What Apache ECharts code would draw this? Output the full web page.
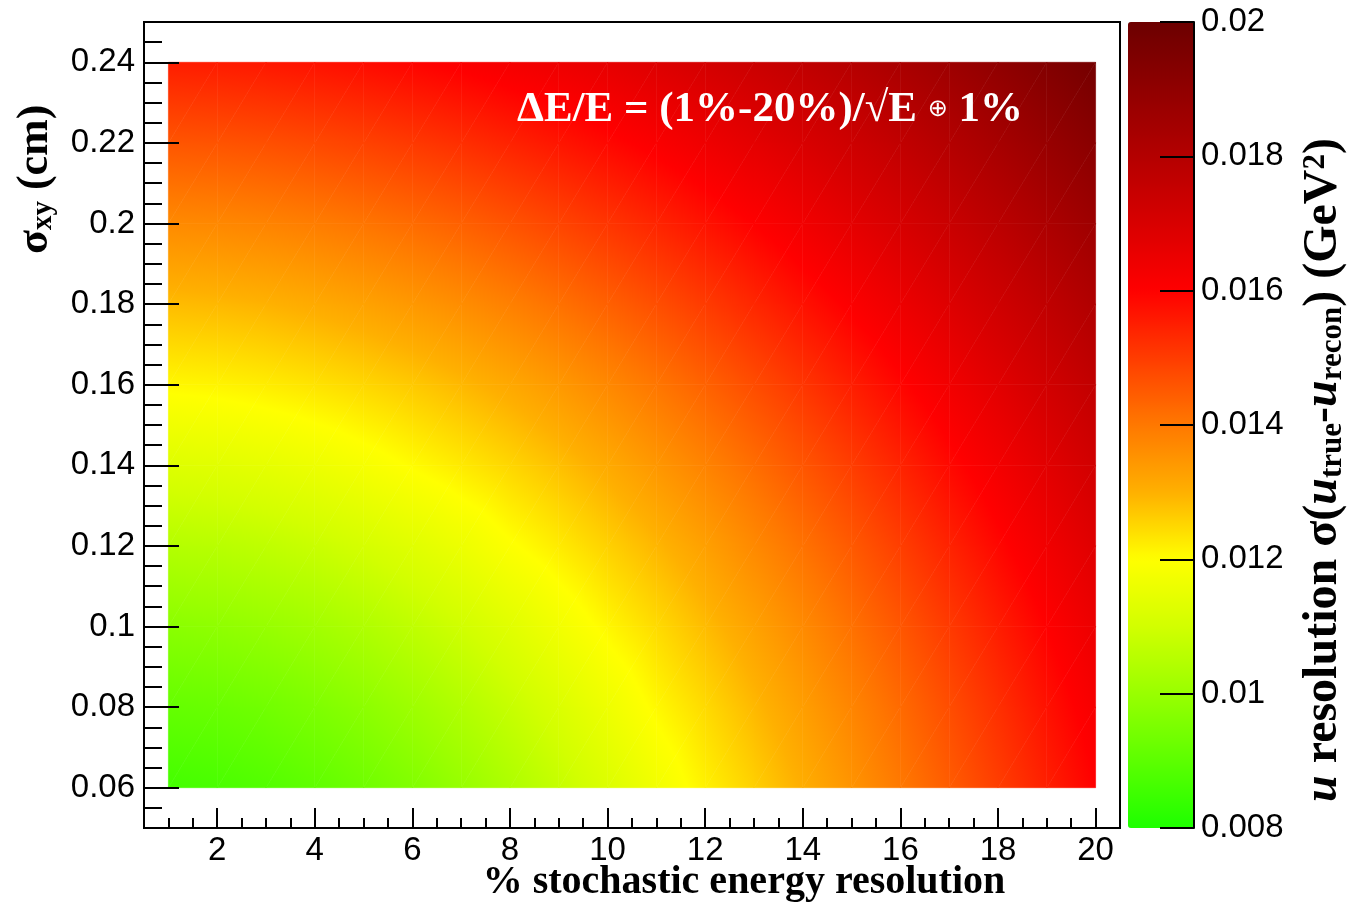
<!DOCTYPE html>
<html><head><meta charset="utf-8">
<script src="https://cdn.jsdelivr.net/npm/echarts@6/dist/echarts.min.js"></script>
<style>html,body{margin:0;padding:0;background:#fff}#chart{width:1359px;height:902px}</style>
</head><body><div id="chart"></div>
<script>
// ---- data ----
const stochastic = [1,2,3,4,5,6,7,8,9,10,11,12,13,14,15,16,17,18,19,20];
const sigmaXY = [0.06,0.08,0.10,0.12,0.14,0.16,0.18,0.20,0.22,0.24];
const res_006 = [0.00860,0.00869,0.00884,0.00905,0.00931,0.00961,0.00996,0.01035,0.01077,0.01122,0.01170,0.01217,0.01259,0.01304,0.01350,0.01398,0.01447,0.01497,0.01548,0.01599];
const res_008 = [0.00913,0.00921,0.00935,0.00955,0.00979,0.01008,0.01042,0.01079,0.01119,0.01163,0.01208,0.01247,0.01289,0.01332,0.01377,0.01424,0.01472,0.01521,0.01572,0.01621];
const res_010 = [0.00976,0.00984,0.00997,0.01015,0.01038,0.01066,0.01097,0.01132,0.01171,0.01210,0.01246,0.01285,0.01325,0.01367,0.01412,0.01457,0.01504,0.01552,0.01600,0.01648];
const res_012 = [0.01047,0.01055,0.01067,0.01084,0.01106,0.01132,0.01161,0.01195,0.01225,0.01258,0.01292,0.01329,0.01369,0.01410,0.01452,0.01497,0.01543,0.01589,0.01635,0.01682];
const res_014 = [0.01126,0.01133,0.01145,0.01161,0.01181,0.01204,0.01227,0.01252,0.01280,0.01311,0.01345,0.01380,0.01418,0.01458,0.01499,0.01542,0.01586,0.01629,0.01674,0.01720];
const res_016 = [0.01209,0.01214,0.01223,0.01235,0.01250,0.01268,0.01290,0.01314,0.01341,0.01371,0.01403,0.01437,0.01473,0.01511,0.01551,0.01592,0.01633,0.01675,0.01719,0.01764];
const res_018 = [0.01285,0.01290,0.01298,0.01310,0.01325,0.01343,0.01363,0.01386,0.01412,0.01440,0.01470,0.01502,0.01536,0.01572,0.01608,0.01646,0.01685,0.01726,0.01768,0.01812];
const res_020 = [0.01368,0.01372,0.01380,0.01391,0.01405,0.01421,0.01440,0.01462,0.01486,0.01512,0.01540,0.01570,0.01601,0.01634,0.01668,0.01704,0.01741,0.01780,0.01821,0.01864];
const res_022 = [0.01458,0.01462,0.01469,0.01479,0.01491,0.01506,0.01523,0.01543,0.01565,0.01588,0.01613,0.01640,0.01668,0.01698,0.01730,0.01765,0.01801,0.01839,0.01879,0.01920];
const res_024 = [0.01552,0.01556,0.01562,0.01571,0.01582,0.01595,0.01610,0.01627,0.01645,0.01665,0.01688,0.01712,0.01738,0.01767,0.01797,0.01830,0.01865,0.01901,0.01939,0.01979];
const resolution = [res_006,res_008,res_010,res_012,res_014,res_016,res_018,res_020,res_022,res_024];

const zRange = [0.008, 0.02];
const paletteColors = ['#1eff00','#5cff00','#99ff00','#d2ff00','#ffff00','#ffb000','#ff7800','#ff3c00','#ff0000','#d80000','#b40000','#900000','#6c0000'];
const xTickLabels = [2,4,6,8,10,12,14,16,18,20];
const xMinorTicks = [1,1.5,2.5,3,3.5,4.5,5,5.5,6.5,7,7.5,8.5,9,9.5,10.5,11,11.5,12.5,13,13.5,14.5,15,15.5,16.5,17,17.5,18.5,19,19.5];
const yTickLabels = [0.06,0.08,0.10,0.12,0.14,0.16,0.18,0.20,0.22,0.24];
const yMinorTicks = [0.055,0.065,0.07,0.075,0.085,0.09,0.095,0.105,0.11,0.115,0.125,0.13,0.135,0.145,0.15,0.155,0.165,0.17,0.175,0.185,0.19,0.195,0.205,0.21,0.215,0.225,0.23,0.235,0.245];
const zTickLabels = [0.008,0.01,0.012,0.014,0.016,0.018,0.02];

// ---- helpers ----
const palRGB = paletteColors.map(h => [parseInt(h.slice(1,3),16), parseInt(h.slice(3,5),16), parseInt(h.slice(5,7),16)]);
const zMin = zRange[0], zMax = zRange[1];
function colorAt(v) {
  let t = (v - zMin) / (zMax - zMin); t = Math.max(0, Math.min(1, t));
  const p = t * (palRGB.length - 1);
  const k = Math.min(Math.floor(p), palRGB.length - 2), f = p - k;
  const a = palRGB[k], b = palRGB[k + 1];
  return 'rgb(' + Math.round(a[0] + (b[0]-a[0])*f) + ',' + Math.round(a[1] + (b[1]-a[1])*f) + ',' + Math.round(a[2] + (b[2]-a[2])*f) + ')';
}
function triFill(P, V) {
  const vlo = Math.min(V[0],V[1],V[2]), vhi = Math.max(V[0],V[1],V[2]);
  const ax = P[1][0]-P[0][0], ay = P[1][1]-P[0][1], bx = P[2][0]-P[0][0], by = P[2][1]-P[0][1];
  const dv1 = V[1]-V[0], dv2 = V[2]-V[0];
  const det = ax*by - ay*bx;
  if (Math.abs(det) < 1e-9 || vhi - vlo < 1e-9) return colorAt((vlo+vhi)/2);
  const gx = (dv1*by - ay*dv2)/det, gy = (ax*dv2 - bx*dv1)/det;
  const g2 = gx*gx + gy*gy;
  if (g2 < 1e-30) return colorAt((vlo+vhi)/2);
  const sx = P[0][0] + (vlo - V[0])*gx/g2, sy = P[0][1] + (vlo - V[0])*gy/g2;
  const ex = P[0][0] + (vhi - V[0])*gx/g2, ey = P[0][1] + (vhi - V[0])*gy/g2;
  const stops = [{offset:0, color:colorAt(vlo)}];
  const n = palRGB.length;
  for (let k = 0; k < n; k++) {
    const zk = zMin + k*(zMax - zMin)/(n - 1);
    if (zk > vlo && zk < vhi) stops.push({offset:(zk - vlo)/(vhi - vlo), color:colorAt(zk)});
  }
  stops.push({offset:1, color:colorAt(vhi)});
  return {type:'linear', x:sx, y:sy, x2:ex, y2:ey, global:true, colorStops:stops};
}
function tri(P, V) {
  return {type:'polygon', shape:{points:P}, silent:true,
    style:{fill:triFill(P,V), stroke:triFill(P,V), lineWidth:0.6}};
}
const points = [];
for (let j = 0; j < sigmaXY.length; j++)
  for (let i = 0; i < stochastic.length; i++)
    points.push([stochastic[i], sigmaXY[j], resolution[j][i]]);

function renderCell(params, api) {
  const nx = stochastic.length, ny = sigmaXY.length;
  const idx = params.dataIndex, i = idx % nx, j = Math.floor(idx / nx);
  if (i >= nx - 1 || j >= ny - 1) return null;
  const c = [[i,j],[i+1,j],[i+1,j+1],[i,j+1]];
  const P = c.map(q => api.coord([stochastic[q[0]], sigmaXY[q[1]]]));
  const V = c.map(q => resolution[q[1]][q[0]]);
  return {type:'group', children:[tri([P[0],P[1],P[2]],[V[0],V[1],V[2]]), tri([P[0],P[2],P[3]],[V[0],V[2],V[3]])]};
}

const fmt = v => String(parseFloat((+v).toFixed(4)));
const tickFont = {fontFamily:'Liberation Sans', fontSize:33, color:'#000'};
const blk = {color:'#000', width:2};
const serif = 'Liberation Serif';

const chart = echarts.init(document.getElementById('chart'), null, {renderer:'canvas'});
chart.setOption({
  animation:false,
  backgroundColor:'#fff',
  grid:[
    {left:144, top:22, width:976, height:806, show:true, borderColor:'#000', borderWidth:2, backgroundColor:'#fff'},
    {left:1128, top:22, width:66, height:806, show:false}
  ],
  xAxis:[
    {gridIndex:0, type:'value', min:0.5, max:20.5, position:'bottom', z:5,
      axisLine:{show:true, onZero:false, lineStyle:blk},
      axisTick:{show:true, inside:true, length:20, customValues:xTickLabels, lineStyle:blk},
      axisLabel:Object.assign({show:true, margin:6, customValues:xTickLabels, formatter:fmt}, tickFont),
      splitLine:{show:false}},
    {gridIndex:0, type:'value', min:0.5, max:20.5, position:'bottom', z:5,
      axisLine:{show:false},
      axisTick:{show:true, inside:true, length:10, customValues:xMinorTicks, lineStyle:blk},
      axisLabel:{show:false}, splitLine:{show:false}},
    {gridIndex:1, type:'value', min:0, max:1, show:false}
  ],
  yAxis:[
    {gridIndex:0, type:'value', min:0.05, max:0.25, position:'left', z:5,
      axisLine:{show:true, onZero:false, lineStyle:blk},
      axisTick:{show:true, inside:true, length:35, customValues:yTickLabels, lineStyle:blk},
      axisLabel:Object.assign({show:true, margin:9, customValues:yTickLabels, formatter:fmt}, tickFont),
      splitLine:{show:false}},
    {gridIndex:0, type:'value', min:0.05, max:0.25, position:'left', z:5,
      axisLine:{show:false},
      axisTick:{show:true, inside:true, length:18, customValues:yMinorTicks, lineStyle:blk},
      axisLabel:{show:false}, splitLine:{show:false}},
    {gridIndex:1, type:'value', min:zRange[0], max:zRange[1], interval:0.002, position:'right', z:5,
      axisLine:{show:true, onZero:false, lineStyle:blk},
      axisTick:{show:true, inside:true, length:34, lineStyle:blk},
      axisLabel:Object.assign({show:true, margin:7, formatter:fmt}, tickFont),
      splitLine:{show:false}}
  ],
  visualMap:{
    type:'continuous', min:zRange[0], max:zRange[1], dimension:2, seriesIndex:0,
    inRange:{color:paletteColors}, orient:'vertical', left:1128, top:22,
    itemWidth:66, itemHeight:806, padding:0, calculable:false, hoverLink:false, show:true
  },
  series:[{
    type:'custom', coordinateSystem:'cartesian2d', xAxisIndex:0, yAxisIndex:0,
    data:points, encode:{x:0, y:1}, renderItem:renderCell, clip:true, silent:true
  }],
  graphic:[
    {type:'text', x:744, y:883, z:100, style:{text:'% stochastic energy resolution', fontFamily:serif, fontWeight:'bold', fontSize:40, fill:'#000', align:'center', verticalAlign:'middle'}},
    {type:'text', x:36, y:254, rotation:Math.PI/2, z:100, style:{
      text:'{m|σ}{s|xy}{m| (cm)}', align:'left', verticalAlign:'middle',
      rich:{
        m:{fontFamily:serif, fontWeight:'bold', fontSize:44, lineHeight:44, verticalAlign:'top', fill:'#000'},
        s:{fontFamily:serif, fontWeight:'bold', fontSize:29, lineHeight:12, verticalAlign:'bottom', fill:'#000'}
      }}},
    {type:'text', x:1324, y:802, rotation:Math.PI/2, z:100, style:{
      text:'{u|u}{m| resolution σ(}{u|u}{s|true}{m|-}{u|u}{s|recon}{m|) (GeV}{p|2}{m|)}', align:'left', verticalAlign:'middle',
      rich:{
        m:{fontFamily:serif, fontWeight:'bold', fontSize:48, lineHeight:48, verticalAlign:'top', fill:'#000'},
        u:{fontFamily:serif, fontWeight:'bold', fontStyle:'italic', fontSize:48, lineHeight:48, verticalAlign:'top', fill:'#000'},
        s:{fontFamily:serif, fontWeight:'bold', fontSize:31, lineHeight:10, verticalAlign:'bottom', fill:'#000'},
        p:{fontFamily:serif, fontWeight:'bold', fontSize:31, lineHeight:12, verticalAlign:'top', fill:'#000'}
      }}},
    {type:'text', x:517, y:110, z:100, style:{
      text:'{m|ΔE/E = (1%-20%)/√E }{o|⊕}{m| 1%}', align:'left', verticalAlign:'middle',
      rich:{
        m:{fontFamily:serif, fontWeight:'bold', fontSize:43, lineHeight:44, verticalAlign:'middle', fill:'#fff'},
        o:{fontFamily:'DejaVu Sans', fontWeight:'normal', fontSize:24, lineHeight:44, verticalAlign:'middle', fill:'#fff'}
      }}}
  ]
});
</script>
</body></html>
